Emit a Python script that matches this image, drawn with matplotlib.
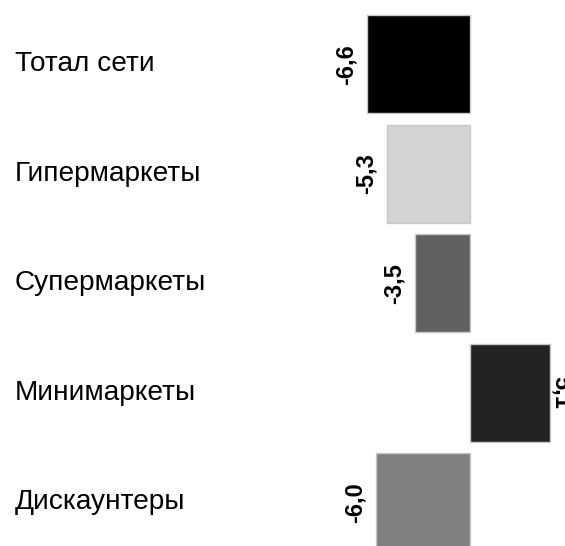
import matplotlib
matplotlib.use("Agg")
import matplotlib.pyplot as plt
from matplotlib.transforms import blended_transform_factory

categories = ["Тотал сети", "Гипермаркеты", "Супермаркеты", "Минимаркеты", "Дискаунтеры"]
values = [-6.6, -5.3, -3.5, 5.1, -6.0]
colors = ["#000000", "#d3d3d3", "#606060", "#232323", "#808080"]

plt.rcParams['font.family'] = ['Liberation Sans', 'DejaVu Sans']

fig = plt.figure(figsize=(5.65, 5.46), dpi=100)
ax = fig.add_axes([0, 0, 1, 1])
ypos = list(range(len(categories)))
ax.barh(ypos, values, height=0.895, color=colors, edgecolor="#c8c8c8", linewidth=1.0)
ax.set_xlim(-30.1, 6.09)
ax.set_ylim(4.40, -0.586)
ax.axis("off")

trans = blended_transform_factory(ax.transAxes, ax.transData)
for y, cat in zip(ypos, categories):
    ax.text(15 / 565, y, cat, transform=trans, ha="left", va="center",
            fontsize=20.2, color="#000000")

for y, v in zip(ypos, values):
    lab = f"{v:.1f}".replace(".", ",")
    if v < 0:
        ax.annotate(lab, (v, y), xytext=(-7, 0), textcoords="offset points",
                    rotation=90, ha="right", va="center", fontsize=17,
                    fontweight="bold", annotation_clip=False)
    else:
        ax.annotate(lab, (v, y), xytext=(0, 0), textcoords="offset points",
                    rotation=270, ha="left", va="center", fontsize=17,
                    fontweight="bold", annotation_clip=False)

fig.savefig("out.png", dpi=100)
